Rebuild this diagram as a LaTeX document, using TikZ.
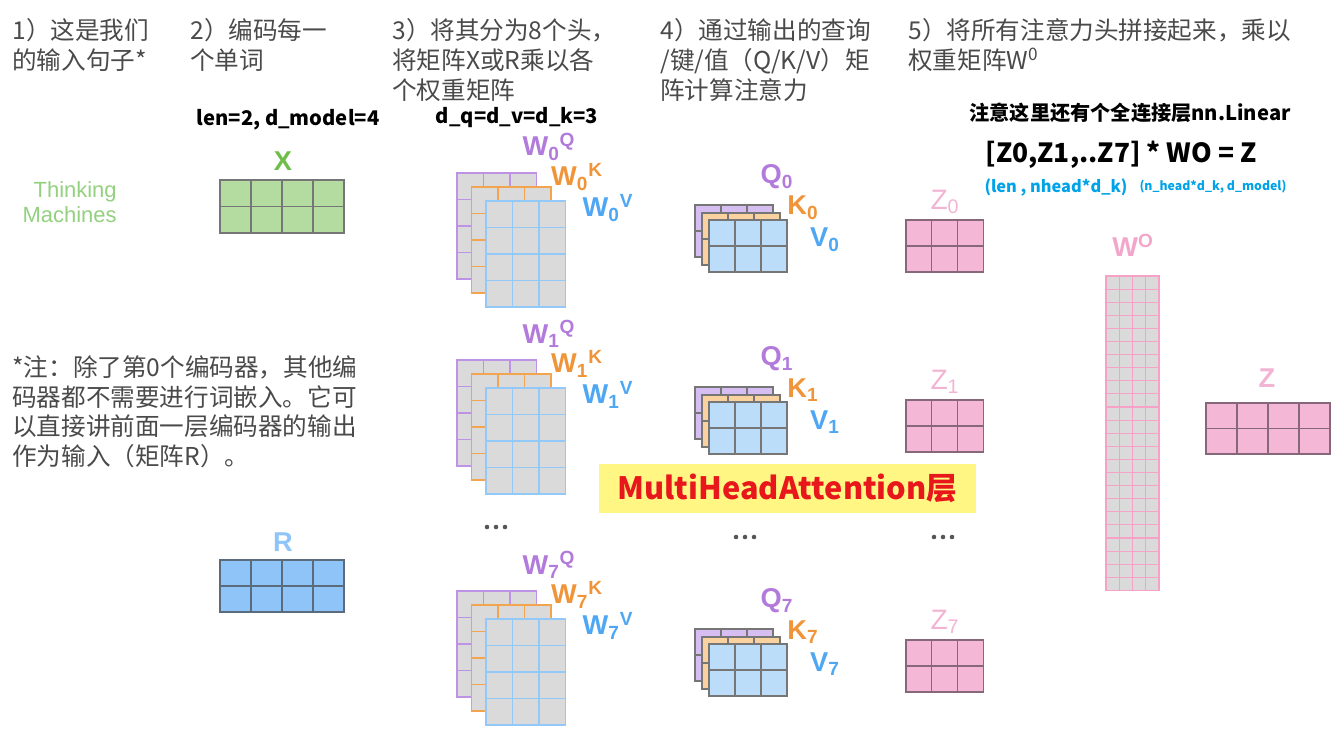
\documentclass[tikz,border=0pt]{standalone}
\usepackage{fontspec}
\setmainfont{Liberation Sans}
\newfontfamily\cjk{Noto Sans CJK SC}
\usetikzlibrary{positioning}

\definecolor{txtgray}{HTML}{4A4A4A}
\definecolor{wgray}{HTML}{DADADA}
\definecolor{wpurple}{HTML}{BE92E4}
\definecolor{worange}{HTML}{F2A44E}
\definecolor{wblue}{HTML}{92C9F8}
\definecolor{qcol}{HTML}{B27ADB}
\definecolor{kcol}{HTML}{F0943A}
\definecolor{vcol}{HTML}{4FA7F4}
\definecolor{qfill}{HTML}{D7BEF2}
\definecolor{kfill}{HTML}{F9D2A0}
\definecolor{vfill}{HTML}{BCDDFA}
\definecolor{gridgray}{HTML}{767676}
\definecolor{zfill}{HTML}{F4B8D6}
\definecolor{zline}{HTML}{86687A}
\definecolor{zcol}{HTML}{F2B4D3}
\definecolor{wogrid}{HTML}{F5A2C6}
\definecolor{wocol}{HTML}{F2A6C9}
\definecolor{xfill}{HTML}{B5DCA0}
\definecolor{xcol}{HTML}{6DBE4B}
\definecolor{tmgreen}{HTML}{93D07F}
\definecolor{rfill}{HTML}{8EC4F8}
\definecolor{rline}{HTML}{5A6B7C}
\definecolor{skyblue}{HTML}{00A2E8}
\definecolor{hlyellow}{HTML}{FFF683}
\definecolor{hlred}{HTML}{E8171B}
\definecolor{dotgray}{HTML}{555555}

% grid of cells: style, x, y, cols, rows, cell width, cell height
\newcommand{\cells}[7]{%
  \filldraw[#1] (#2,#3) rectangle ++({#4*#6},{#5*#7});
  \foreach \ci in {1,...,#4} \draw[#1] ({#2+\ci*#6},#3) -- ++(0,{#5*#7});
  \foreach \ri in {1,...,#5} \draw[#1] (#2,{#3+\ri*#7}) -- ++({#4*#6},0);
}
% weight matrices of one head: x, y, head
\newcommand{\wstack}[3]{%
  \cells{wq}{#1}{#2}{3}{4}{26.5}{26.5}
  \cells{wk}{#1+14.5}{#2+14}{3}{4}{26.5}{26.5}
  \cells{wv}{#1+29}{#2+28}{3}{4}{26.5}{26.5}
  \node[lbl,text=qcol] (wq#3) at (#1+92,#2-26) {W\textsubscript{#3}\textsuperscript{Q}};
  \node[lbl,text=kcol] (wk#3) at (#1+120,#2+4) {W\textsubscript{#3}\textsuperscript{K}};
  \node[lbl,text=vcol] (wv#3) at (#1+151,#2+35) {W\textsubscript{#3}\textsuperscript{V}};
}
% Q/K/V of one head: x, y, head
\newcommand{\qkv}[3]{%
  \cells{mq}{#1}{#2}{3}{2}{26}{26}
  \cells{mk}{#1+7}{#2+8}{3}{2}{26}{26}
  \cells{mv}{#1+14}{#2+15}{3}{2}{26}{26}
  \node[lbl,text=qcol] (q#3) at (#1+82,#2-28) {Q\textsubscript{#3}};
  \node[lbl,text=kcol] (k#3) at (#1+108,#2+3) {K\textsubscript{#3}};
  \node[lbl,text=vcol] (v#3) at (#1+130,#2+35) {V\textsubscript{#3}};
}
% output of one head: x, y, head
\newcommand{\zhead}[3]{%
  \cells{zm}{#1}{#2}{3}{2}{25.7}{26}
  \node[lbl,font={\fontsize{16}{18}\selectfont},text=zcol] (z#3) at (#1+39,#2-18) {Z\textsubscript{#3}};
}

\begin{document}
\begin{tikzpicture}[x=0.02cm,y=-0.02cm]
  \tikzset{
    headtxt/.style={font={\cjk\fontsize{14}{17}\selectfont},text=txtgray,align=left,inner sep=0pt,anchor=north west},
    capt/.style={font={\cjk\bfseries\fontsize{11.5}{13}\selectfont},inner sep=0pt},
    lbl/.style={font={\bfseries\fontsize{15.5}{18}\selectfont},inner sep=0pt},
    wq/.style={fill=wgray,draw=wpurple,line width=0.8pt},
    wk/.style={fill=wgray,draw=worange,line width=0.8pt},
    wv/.style={fill=wgray,draw=wblue,line width=0.8pt},
    mq/.style={fill=qfill,draw=gridgray,line width=0.6pt},
    mk/.style={fill=kfill,draw=gridgray,line width=0.6pt},
    mv/.style={fill=vfill,draw=gridgray,line width=0.6pt},
    zm/.style={fill=zfill,draw=zline,line width=0.7pt},
    xm/.style={fill=xfill,draw=gridgray,line width=0.7pt},
    rm/.style={fill=rfill,draw=rline,line width=0.7pt},
    wo/.style={fill=wgray,draw=wogrid,line width=0.6pt}
  }
  \useasboundingbox (0,0) rectangle (1334,728);

  % step titles
  \node[headtxt] (h1) at (12,18) {1）这是我们\\的输入句子*};
  \node[headtxt] (h2) at (190,18) {2）编码每一\\个单词};
  \node[headtxt] (h3) at (392,18) {3）将其分为8个头，\\将矩阵X或R乘以各\\个权重矩阵};
  \node[headtxt] (h4) at (660,18) {4）通过输出的查询\\/键/值（Q/K/V）矩\\阵计算注意力};
  \node[headtxt] (h5) at (908,18) {5）将所有注意力头拼接起来，乘以\\权重矩阵W\textsuperscript{0}};
  \node[headtxt] (note) at (12,355) {*注：除了第0个编码器，其他编\\码器都不需要进行词嵌入。它可\\以直接讲前面一层编码器的输出\\作为输入（矩阵R）。};

  % sizes
  \node[capt] (dims) at (288,120) {len=2, d\_model=4};
  \node[capt] (dk) at (517,118) {d\_q=d\_v=d\_k=3};
  \node[capt] (linear) at (1130,113) {注意这里还有个全连接层nn.Linear};
  \node[capt,font={\cjk\bfseries\fontsize{15}{17}\selectfont}] (eq) at (1121,155) {[Z0,Z1,..Z7] * WO = Z};
  \node[capt,font={\cjk\bfseries\fontsize{9.3}{11}\selectfont},text=skyblue] (zshape) at (1056,187) {(len , nhead*d\_k)};
  \node[capt,font={\cjk\bfseries\fontsize{7}{9}\selectfont},text=skyblue] (woshape) at (1213,187) {(n\_head*d\_k, d\_model)};

  % input
  \node[font={\fontsize{12.5}{14.2}\selectfont},text=tmgreen,align=right,inner sep=0pt,anchor=east] (words) at (117,202) {Thinking\\Machines};
  \cells{xm}{220}{180}{4}{2}{31}{26.5}
  \node[lbl,text=xcol] (x) at (283,161) {X};
  \cells{rm}{220}{560}{4}{2}{31}{26}
  \node[lbl,text=rfill] (r) at (283,542) {R};

  % heads 0, 1 and 7
  \wstack{457}{173}{0}
  \wstack{457}{360}{1}
  \wstack{457}{591}{7}
  \qkv{695}{205}{0}
  \qkv{695}{387}{1}
  \qkv{695}{629}{7}
  \zhead{906}{220}{0}
  \zhead{906}{400}{1}
  \zhead{906}{640}{7}
  \foreach \px/\py in {496/527, 745/537, 943/537}
    \foreach \dx in {-9,0,9}
      \fill[dotgray] (\px+\dx,\py) circle (1.3pt);

  % concat and output
  \cells{wo}{1106}{276}{4}{24}{13.25}{13.1}
  \node[lbl,text=wocol] (wo) at (1133,245) {W\textsuperscript{O}};
  \cells{zm}{1206}{403}{4}{2}{31}{25.5}
  \node[lbl,text=zcol] (z) at (1267,378) {Z};

  \node[fill=hlyellow,text=hlred,font={\cjk\bfseries\fontsize{17.5}{20}\selectfont},minimum width=7.54cm,minimum height=0.98cm,inner sep=0pt] (mha) at (787.5,488.5) {MultiHeadAttention层};
\end{tikzpicture}
\end{document}
